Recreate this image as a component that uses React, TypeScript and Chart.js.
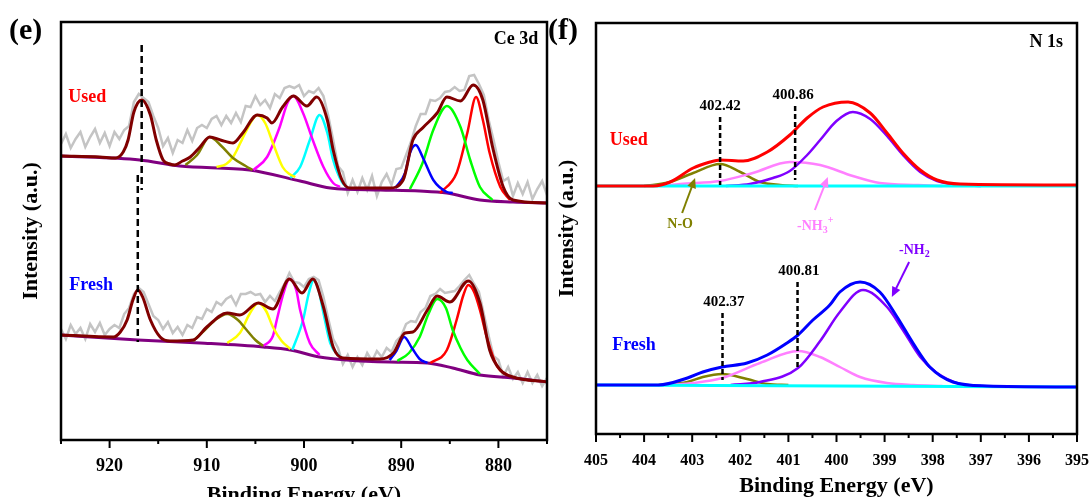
import React, { useEffect, useRef } from 'react';
import { Chart, registerables } from 'chart.js';

Chart.register(...registerables);

const FONT = "'Liberation Serif', 'Times New Roman', Times, serif";

type Pt = [number, number];

// ---------------- Panel (e): Ce 3d ----------------
const ceAxisMin = 875;
const ceAxisMax = 925;
const ceRawStart = 925;
const ceRawStep = 0.5;

const ceUsedRaw = [294,304,290,299,306,291,301,309,295,305,292,306,299,308,312,336,344,340,336,322,310,292,300,285,298,295,308,297,310,313,310,319,322,313,322,315,325,316,332,331,342,333,338,330,344,340,350,352,350,353,342,347,345,350,342,322,298,272,266,245,258,246,260,248,262,242,256,264,253,269,270,283,296,312,324,324,338,337,340,346,347,351,347,348,362,363,354,343,318,298,276,257,260,242,255,244,256,239,249,257,243];
const ceFreshRaw = [109,99,113,104,110,99,114,106,115,103,109,113,110,124,130,144,150,146,134,122,118,109,116,105,111,103,113,110,121,119,129,126,136,133,139,142,133,144,144,146,143,144,136,142,137,146,154,165,156,155,151,159,161,158,141,119,99,90,74,83,71,81,73,85,77,87,81,90,86,97,102,114,117,116,126,130,142,144,149,145,146,147,152,158,163,154,146,124,102,82,78,62,71,59,66,55,66,55,63,52,60];

const ceUsedEnvelope: Pt[] = [[925,282],[921,281],[919.4,280],[918.6,286],[918.1,298],[917.5,326],[916.7,338],[915.8,323],[915.2,298],[914.5,278],[913.8,274],[913.3,273],[912.5,277],[911.7,281],[910.7,291],[909.7,301],[908.6,298],[907.3,295],[906.3,305],[904.8,323],[903.8,320],[903.3,315],[902.2,331],[901.1,342],[899.7,332],[898.7,341],[897.6,318],[897.0,288],[896.1,258],[895.3,250],[891.2,250],[889.8,258],[888.8,298],[887.8,310],[886.3,325],[885.3,341],[883.9,337],[882.6,353],[881.6,338],[880.6,291],[879.5,251],[878.5,238],[875,235]];
const ceUsedBackground: Pt[] = [[925,282],[916.9,278],[912.8,272],[905.6,268],[900.4,257],[897.3,250],[892.2,248],[888.1,247],[885.3,245],[881.9,238],[878.5,236],[875,235]];
const ceUsedOlive: Pt[] = [[912.2,273],[911.0,283],[909.7,301],[908.5,292],[907.3,280],[906.0,272],[905.3,268]];
const ceUsedYellow: Pt[] = [[909.0,271],[908.0,274],[907.3,281],[906.5,296],[905.9,308],[904.8,323],[904.0,315],[903.2,295],[902.2,271],[901.5,264],[900.9,261]];
const ceUsedMagenta: Pt[] = [[905.2,268],[903.8,281],[902.5,311],[901.7,335],[901.1,342],[900.1,325],[899.1,298],[898.0,271],[897.0,255],[896.3,251]];
const ceUsedCyan: Pt[] = [[901.4,260],[900.4,271],[899.4,298],[898.4,323],[897.6,305],[897.0,278],[896.1,256],[895.6,251]];
const ceUsedBlue: Pt[] = [[890.6,250],[889.6,265],[889.1,285],[888.5,293],[887.8,281],[886.7,258],[885.3,246],[884.7,245]];
const ceUsedGreen: Pt[] = [[889.1,249],[887.8,275],[886.7,308],[885.3,332],[883.9,311],[882.9,278],[881.9,251],[880.6,238]];
const ceUsedRed: Pt[] = [[886.0,245],[884.3,265],[883.2,305],[882.3,341],[881.6,318],[880.9,285],[879.8,251],[878.8,238]];
const ceUsedMarker: Pt[] = [[916.7,393],[916.7,248]];

const ceFreshEnvelope: Pt[] = [[925,103],[919.6,101],[918.9,106],[918.2,118],[917.6,138],[917.1,148],[916.6,141],[915.8,118],[914.8,101],[913.8,97],[911.4,98],[910.0,111],[907.9,125],[906.6,123],[904.7,135],[903.2,129],[901.5,159],[900.2,145],[899.1,159],[898.0,131],[897.0,91],[896.0,80],[892.2,79],[890.8,85],[889.6,105],[888.8,106],[887.3,128],[886.3,142],[885.0,136],[883.1,157],[881.9,135],[880.9,88],[879.8,68],[878.5,61],[875,56]];
const ceFreshBackground: Pt[] = [[925,103],[917.1,98],[910.7,95],[904.2,91],[901.4,88],[898.4,81],[895.6,78],[891.2,76],[887.3,75],[884.7,70],[881.9,63],[878.5,60],[875,56]];
const ceFreshOlive: Pt[] = [[911.4,97],[910.2,108],[909.0,119],[907.9,124],[906.8,118],[905.9,108],[905.0,98],[904.2,92]];
const ceFreshYellow: Pt[] = [[907.9,95],[906.6,105],[905.6,124],[904.7,135],[903.9,127],[903.2,111],[902.3,97],[901.4,89]];
const ceFreshMagenta: Pt[] = [[904.2,92],[903.2,102],[902.8,118],[902.1,145],[901.5,159],[900.8,148],[900.4,128],[899.4,95],[898.4,83]];
const ceFreshCyan: Pt[] = [[901.2,88],[900.1,118],[899.5,145],[899.0,158],[898.5,148],[898.0,125],[897.3,95],[896.3,81]];
const ceFreshBlue: Pt[] = [[891.2,78],[890.5,87],[889.7,101],[888.9,90],[888.1,79],[887.3,75]];
const ceFreshGreen: Pt[] = [[890.4,77],[889.2,85],[888.1,101],[887.2,124],[886.3,139],[885.4,130],[884.7,108],[883.9,90],[883.2,78],[881.9,64]];
const ceFreshRed: Pt[] = [[887.0,75],[885.3,88],[884.3,118],[883.6,143],[883.1,153],[882.5,146],[881.9,128],[881.2,101],[880.1,71],[879.1,63]];
const ceFreshMarker: Pt[] = [[917.1,263],[917.1,96]];

// ---------------- Panel (f): N 1s ----------------
const n1sAxisMin = 395;
const n1sAxisMax = 405;

const n1sUsedEnvelope: Pt[] = [[405,252],[403.81,252],[403.46,256],[402.98,270],[402.63,276],[402.42,278],[401.94,277],[401.44,286],[400.97,303],[400.61,320],[400.28,331],[399.76,336],[399.30,325],[398.95,305],[398.62,285],[398.26,268],[397.91,258],[397.43,254],[395,253]];
const n1sUsedBaseline: Pt[] = [[405,252],[395,252]];
const n1sUsedNO: Pt[] = [[404.0,252],[403.46,256],[402.98,265],[402.42,274],[402.0,266],[401.59,256],[401.17,253],[400.8,252]];
const n1sUsedNH3: Pt[] = [[403.6,252],[403.25,254],[402.42,257],[401.74,265],[400.97,276],[400.34,273],[399.66,262],[399.1,255],[398.3,253],[397.8,252]];
const n1sUsedNH2: Pt[] = [[402.3,252],[401.8,254],[401.32,260],[400.97,267],[400.61,283],[400.34,298],[400.0,317],[399.66,326],[399.3,319],[398.95,302],[398.62,283],[398.26,266],[397.91,257],[397.43,253],[397.0,252]];
const n1sUsedMarkerA: Pt[] = [[402.42,321],[402.42,253]];
const n1sUsedMarkerB: Pt[] = [[400.86,332],[400.86,258]];

const n1sFreshEnvelope: Pt[] = [[405,53],[403.7,53],[403.1,60],[402.78,66],[402.38,71],[401.86,75],[401.44,83],[401.03,95],[400.8,103],[400.49,118],[400.14,133],[399.93,146],[399.51,156],[399.1,146],[398.74,121],[398.41,95],[398.06,71],[397.58,56],[396.87,52],[395,51]];
const n1sFreshBaseline: Pt[] = [[405,53],[395,51]];
const n1sFreshNO: Pt[] = [[403.7,53],[403.1,56],[402.78,61],[402.38,64],[401.86,59],[401.44,54],[401.0,53]];
const n1sFreshNH3: Pt[] = [[403.5,53],[402.98,55],[402.38,60],[401.59,75],[400.8,87],[400.34,81],[399.93,71],[399.51,61],[398.95,55],[398.4,53],[397.8,52]];
const n1sFreshNH2: Pt[] = [[402.2,53],[401.59,56],[400.8,70],[400.34,97],[399.93,126],[399.45,148],[398.95,131],[398.62,108],[398.26,81],[397.91,65],[397.43,54],[397.0,52]];
const n1sFreshMarkerA: Pt[] = [[402.37,125],[402.37,58]];
const n1sFreshMarkerB: Pt[] = [[400.81,156],[400.81,70]];

// ---------------- helpers ----------------
function line(points: Pt[], color: string, width: number, order: number, extra: any = {}) {
  return {
    data: points.map(([x, y]) => ({ x, y })),
    borderColor: color,
    backgroundColor: color,
    borderWidth: width,
    pointRadius: 0,
    fill: false,
    cubicInterpolationMode: 'monotone',
    order,
    ...extra,
  };
}

function rawLine(values: number[], color: string, width: number, order: number) {
  return {
    data: values.map((y, i) => ({ x: ceRawStart - i * ceRawStep, y })),
    borderColor: color,
    borderWidth: width,
    pointRadius: 0,
    fill: false,
    tension: 0,
    order,
  };
}

type Part = { t: string; size: number; dy: number };
type Label = { parts: Part[]; x: number; y: number; color: string; align?: 'left' | 'center' | 'right'; px?: boolean };
type Arrow = { from: Pt; to: Pt; color: string };

function simple(text: string, x: number, y: number, color: string, size: number, align: 'left' | 'center' | 'right' = 'center', px = false): Label {
  return { parts: [{ t: text, size, dy: 0 }], x, y, color, align, px };
}

function makeDeco(labels: Label[], arrows: Arrow[], isMajor: (v: number) => boolean) {
  return {
    id: 'deco',
    afterDraw(chart: any) {
      const { ctx, chartArea: a, scales } = chart;
      const xs = scales.x;
      const ys = scales.y;
      ctx.save();
      ctx.strokeStyle = '#000';
      ctx.lineWidth = 2.5;
      ctx.strokeRect(a.left, a.top, a.right - a.left, a.bottom - a.top);
      ctx.lineWidth = 2;
      xs.ticks.forEach((t: any) => {
        const p = xs.getPixelForValue(t.value);
        ctx.beginPath();
        ctx.moveTo(p, a.bottom);
        ctx.lineTo(p, a.bottom + (isMajor(t.value) ? 8 : 4));
        ctx.stroke();
      });
      arrows.forEach((ar) => {
        const x1 = xs.getPixelForValue(ar.from[0]);
        const y1 = ys.getPixelForValue(ar.from[1]);
        const x2 = xs.getPixelForValue(ar.to[0]);
        const y2 = ys.getPixelForValue(ar.to[1]);
        const ang = Math.atan2(y2 - y1, x2 - x1);
        const hl = 10;
        const hw = 4.5;
        ctx.strokeStyle = ar.color;
        ctx.fillStyle = ar.color;
        ctx.lineWidth = 2;
        ctx.beginPath();
        ctx.moveTo(x1, y1);
        ctx.lineTo(x2 - Math.cos(ang) * hl * 0.8, y2 - Math.sin(ang) * hl * 0.8);
        ctx.stroke();
        ctx.beginPath();
        ctx.moveTo(x2, y2);
        ctx.lineTo(x2 - Math.cos(ang) * hl - Math.sin(ang) * hw, y2 - Math.sin(ang) * hl + Math.cos(ang) * hw);
        ctx.lineTo(x2 - Math.cos(ang) * hl + Math.sin(ang) * hw, y2 - Math.sin(ang) * hl - Math.cos(ang) * hw);
        ctx.closePath();
        ctx.fill();
      });
      labels.forEach((lb) => {
        const X = lb.px ? lb.x : xs.getPixelForValue(lb.x);
        const Y = lb.px ? lb.y : ys.getPixelForValue(lb.y);
        ctx.fillStyle = lb.color;
        ctx.textBaseline = 'middle';
        ctx.textAlign = 'left';
        let total = 0;
        lb.parts.forEach((p) => {
          ctx.font = `bold ${p.size}px ${FONT}`;
          total += ctx.measureText(p.t).width;
        });
        let cx = X;
        if (lb.align === 'center') cx = X - total / 2;
        if (lb.align === 'right') cx = X - total;
        lb.parts.forEach((p) => {
          ctx.font = `bold ${p.size}px ${FONT}`;
          ctx.fillText(p.t, cx, Y + p.dy);
          cx += ctx.measureText(p.t).width;
        });
      });
      ctx.restore();
    },
  };
}

function baseOptions(o: {
  xmin: number; xmax: number; step: number; tickSize: number; tickPad: number; titlePad: number;
  xHeight: number; yWidth: number; yTitlePad: number; ymin: number; ymax: number;
  padRight: number; padTop: number; label: (v: number) => string;
}) {
  return {
    responsive: false,
    animation: false,
    events: [],
    layout: { padding: { left: 0, right: o.padRight, top: o.padTop, bottom: 0 } },
    plugins: { legend: { display: false }, tooltip: { enabled: false }, title: { display: false } },
    scales: {
      x: {
        type: 'linear',
        reverse: true,
        min: o.xmin,
        max: o.xmax,
        grid: { display: false, drawTicks: false },
        border: { display: false },
        ticks: {
          stepSize: o.step,
          autoSkip: false,
          maxRotation: 0,
          padding: o.tickPad,
          color: '#000',
          font: { family: FONT, size: o.tickSize, weight: 'bold' },
          callback: (v: any) => o.label(Number(v)),
        },
        title: {
          display: true,
          text: 'Binding Energy (eV)',
          color: '#000',
          font: { family: FONT, size: 22, weight: 'bold' },
          padding: { top: 0, bottom: o.titlePad },
        },
        afterFit: (s: any) => { s.height = o.xHeight; },
      },
      y: {
        type: 'linear',
        min: o.ymin,
        max: o.ymax,
        grid: { display: false, drawTicks: false },
        border: { display: false },
        ticks: { display: false },
        title: {
          display: true,
          text: 'Intensity (a.u.)',
          color: '#000',
          font: { family: FONT, size: 22, weight: 'bold' },
          padding: { top: o.yTitlePad, bottom: 0 },
        },
        afterFit: (s: any) => { s.width = o.yWidth; },
      },
    },
  };
}

const DASH_E = { borderDash: [7, 4], cubicInterpolationMode: 'default' };
const DASH_F = { borderDash: [5, 3], cubicInterpolationMode: 'default' };

function buildCe() {
  const datasets = [
    line(ceUsedMarker, '#000000', 2.5, 0, DASH_E),
    line(ceFreshMarker, '#000000', 2.5, 0, DASH_E),
    line(ceUsedEnvelope, '#800000', 3, 1),
    line(ceFreshEnvelope, '#800000', 3, 1),
    line(ceUsedOlive, '#808000', 2.5, 2),
    line(ceUsedYellow, '#ffff00', 2.5, 2),
    line(ceUsedMagenta, '#ff00ff', 2.5, 2),
    line(ceUsedCyan, '#00ffff', 2.5, 2),
    line(ceUsedBlue, '#0000ff', 2.5, 2),
    line(ceUsedGreen, '#00ff00', 2.5, 2),
    line(ceUsedRed, '#ff0000', 2.5, 2),
    line(ceFreshOlive, '#808000', 2.5, 2),
    line(ceFreshYellow, '#ffff00', 2.5, 2),
    line(ceFreshMagenta, '#ff00ff', 2.5, 2),
    line(ceFreshCyan, '#00ffff', 2.5, 2),
    line(ceFreshBlue, '#0000ff', 2.5, 2),
    line(ceFreshGreen, '#00ff00', 2.5, 2),
    line(ceFreshRed, '#ff0000', 2.5, 2),
    line(ceUsedBackground, '#800080', 3, 3),
    line(ceFreshBackground, '#800080', 3, 3),
    rawLine(ceUsedRaw, '#c4c4c4', 2.5, 4),
    rawLine(ceFreshRaw, '#c4c4c4', 2.5, 4),
  ];
  const labels: Label[] = [
    simple('(e)', 9, 31, '#000', 30, 'left', true),
    simple('Ce 3d', 875.9, 399, '#000', 18, 'right'),
    simple('Used', 922.3, 341, '#ff0000', 18, 'center'),
    simple('Fresh', 921.9, 153, '#0000ff', 18, 'center'),
  ];
  return {
    type: 'line',
    data: { datasets },
    options: baseOptions({
      xmin: ceAxisMin, xmax: ceAxisMax, step: 5, tickSize: 18, tickPad: 16, titlePad: 1,
      xHeight: 70, yWidth: 61, yTitlePad: 18, ymin: -2, ymax: 416, padRight: 0, padTop: 22,
      label: (v) => (Math.round(v) % 10 === 0 && Math.abs(v - Math.round(v)) < 1e-6 && v !== 925 && v !== 875 ? String(Math.round(v)) : ''),
    }),
    plugins: [makeDeco(labels, [], (v) => Math.abs(v / 10 - Math.round(v / 10)) < 1e-6)],
  };
}

function buildN1s() {
  const datasets = [
    line(n1sUsedMarkerA, '#000000', 2.5, 0, DASH_F),
    line(n1sUsedMarkerB, '#000000', 2.5, 0, DASH_F),
    line(n1sFreshMarkerA, '#000000', 2.5, 0, DASH_F),
    line(n1sFreshMarkerB, '#000000', 2.5, 0, DASH_F),
    line(n1sUsedEnvelope, '#ff0000', 3, 1),
    line(n1sFreshEnvelope, '#0000ff', 3, 1),
    line(n1sUsedBaseline, '#00ffff', 3, 2, { cubicInterpolationMode: 'default' }),
    line(n1sFreshBaseline, '#00ffff', 3, 2, { cubicInterpolationMode: 'default' }),
    line(n1sUsedNH2, '#8000ff', 2.5, 3),
    line(n1sFreshNH2, '#8000ff', 2.5, 3),
    line(n1sUsedNH3, '#ff80ff', 2.5, 4),
    line(n1sFreshNH3, '#ff80ff', 2.5, 4),
    line(n1sUsedNO, '#808000', 2.5, 5),
    line(n1sFreshNO, '#808000', 2.5, 5),
  ];
  const labels: Label[] = [
    simple('(f)', 3, 31, '#000', 30, 'left', true),
    simple('N 1s', 395.29, 396, '#000', 18, 'right'),
    simple('Used', 404.32, 298, '#ff0000', 18, 'center'),
    simple('Fresh', 404.21, 93, '#0000ff', 18, 'center'),
    simple('402.42', 402.42, 332, '#000', 15, 'center'),
    simple('400.86', 400.90, 343, '#000', 15, 'center'),
    simple('402.37', 402.34, 136, '#000', 15, 'center'),
    simple('400.81', 400.78, 167, '#000', 15, 'center'),
    simple('N-O', 403.25, 214, '#808000', 14, 'center'),
    { parts: [{ t: '-NH', size: 14, dy: 0 }, { t: '3', size: 10, dy: 4 }, { t: '+', size: 10, dy: -6 }], x: 400.82, y: 212, color: '#ff80ff', align: 'left' },
    { parts: [{ t: '-NH', size: 14, dy: 0 }, { t: '2', size: 10, dy: 4 }], x: 398.70, y: 188, color: '#8000ff', align: 'left' },
  ];
  const arrows: Arrow[] = [
    { from: [403.21, 225], to: [402.94, 260], color: '#808000' },
    { from: [400.45, 228], to: [400.18, 261], color: '#ff80ff' },
    { from: [398.49, 176], to: [398.85, 141], color: '#8000ff' },
  ];
  return {
    type: 'line',
    data: { datasets },
    options: baseOptions({
      xmin: n1sAxisMin, xmax: n1sAxisMax, step: 0.5, tickSize: 16, tickPad: 17, titlePad: 10,
      xHeight: 76, yWidth: 51, yTitlePad: 9, ymin: 4, ymax: 415, padRight: 0, padTop: 23,
      label: (v) => (Math.abs(v - Math.round(v)) < 1e-6 ? String(Math.round(v)) : ''),
    }),
    plugins: [makeDeco(labels, arrows, (v) => Math.abs(v - Math.round(v)) < 1e-6)],
  };
}

function Panel({ left, width, build }: { left: number; width: number; build: () => any }) {
  const ref = useRef<HTMLCanvasElement | null>(null);
  useEffect(() => {
    if (!ref.current) return;
    const chart = new Chart(ref.current, build());
    return () => chart.destroy();
  }, []);
  return (
    <canvas
      ref={ref}
      width={width}
      height={510}
      style={{ position: 'absolute', left, top: 0, width, height: 510, display: 'block' }}
    />
  );
}

export default function App() {
  return (
    <div style={{ position: 'absolute', left: 0, top: 0, width: 1091, height: 497, overflow: 'hidden', background: '#ffffff' }}>
      <Panel left={0} width={563} build={buildCe} />
      <Panel left={545} width={561} build={buildN1s} />
    </div>
  );
}
